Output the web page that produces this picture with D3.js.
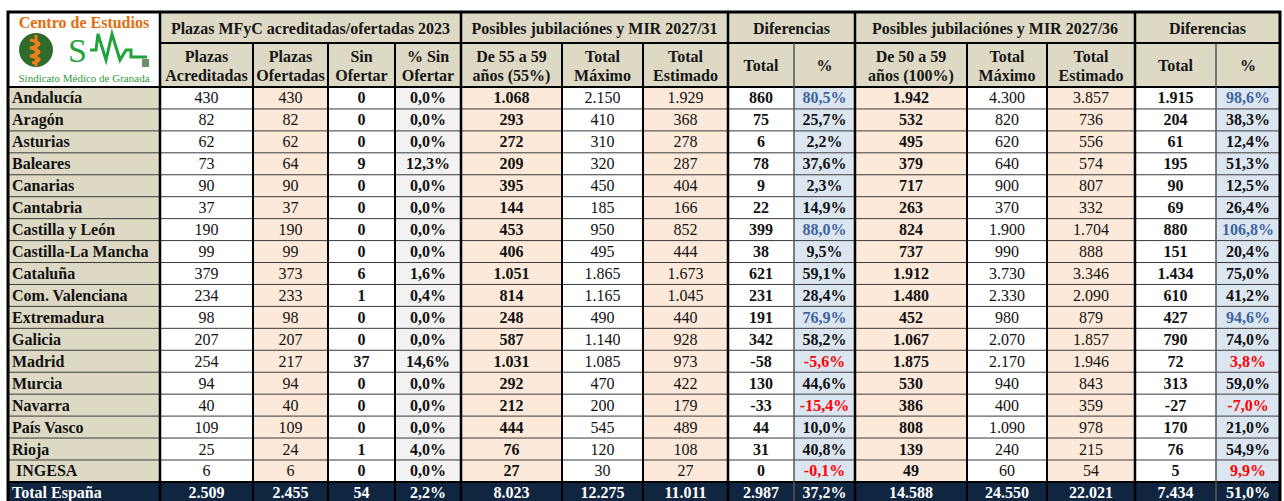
<!DOCTYPE html>
<html>
<head>
<meta charset="utf-8">
<script src="https://cdn.jsdelivr.net/npm/d3@7"></script>
<style>
  html, body { margin: 0; padding: 0; background: #fff; }
  svg { display: block; }
  text { font-family: "Liberation Serif", "Times New Roman", serif; }
</style>
</head>
<body>
<svg id="chart" width="1284" height="501"></svg>
<script>
// ---- data ----
const regions = ['Andalucía', 'Aragón', 'Asturias', 'Baleares', 'Canarias', 'Cantabria', 'Castilla y León',
    'Castilla-La Mancha', 'Cataluña', 'Com. Valenciana', 'Extremadura', 'Galicia', 'Madrid', 'Murcia',
    'Navarra', 'País Vasco', 'Rioja', ' INGESA', 'Total España'];

const acreditadas = [430, 82, 62, 73, 90, 37, 190, 99, 379, 234, 98, 207, 254, 94, 40, 109, 25, 6, 2509];
const ofertadas = [430, 82, 62, 64, 90, 37, 190, 99, 373, 233, 98, 207, 217, 94, 40, 109, 24, 6, 2455];
const sinOfertar = [0, 0, 0, 9, 0, 0, 0, 0, 6, 1, 0, 0, 37, 0, 0, 0, 1, 0, 54];
const pctSinOfertar = [0, 0, 0, 12.3, 0, 0, 0, 0, 1.6, 0.4, 0, 0, 14.6, 0, 0, 0, 4.0, 0, 2.2];

const de55a59 = [1068, 293, 272, 209, 395, 144, 453, 406, 1051, 814, 248, 587, 1031, 292, 212, 444, 76, 27, 8023];
const maximo31 = [2150, 410, 310, 320, 450, 185, 950, 495, 1865, 1165, 490, 1140, 1085, 470, 200, 545, 120, 30, 12275];
const estimado31 = [1929, 368, 278, 287, 404, 166, 852, 444, 1673, 1045, 440, 928, 973, 422, 179, 489, 108, 27, 11011];
const dif31 = [860, 75, 6, 78, 9, 22, 399, 38, 621, 231, 191, 342, -58, 130, -33, 44, 31, 0, 2987];
const pct31 = [80.5, 25.7, 2.2, 37.6, 2.3, 14.9, 88.0, 9.5, 59.1, 28.4, 76.9, 58.2, -5.6, 44.6, -15.4, 10.0, 40.8, -0.1, 37.2];
const mark31 = ['b', '', '', '', '', '', 'b', '', '', '', 'b', '', 'r', '', 'r', '', '', 'r', ''];

const de50a59 = [1942, 532, 495, 379, 717, 263, 824, 737, 1912, 1480, 452, 1067, 1875, 530, 386, 808, 139, 49, 14588];
const maximo36 = [4300, 820, 620, 640, 900, 370, 1900, 990, 3730, 2330, 980, 2070, 2170, 940, 400, 1090, 240, 60, 24550];
const estimado36 = [3857, 736, 556, 574, 807, 332, 1704, 888, 3346, 2090, 879, 1857, 1946, 843, 359, 978, 215, 54, 22021];
const dif36 = [1915, 204, 61, 195, 90, 69, 880, 151, 1434, 610, 427, 790, 72, 313, -27, 170, 76, 5, 7434];
const pct36 = [98.6, 38.3, 12.4, 51.3, 12.5, 26.4, 106.8, 20.4, 75.0, 41.2, 94.6, 74.0, 3.8, 59.0, -7.0, 21.0, 54.9, 9.9, 51.0];
const mark36 = ['b', '', '', '', '', '', 'b', '', '', '', 'b', '', 'r', '', 'r', '', '', 'r', ''];

const groupTitles = ['Plazas MFyC acreditadas/ofertadas 2023', 'Posibles jubilaciónes y MIR 2027/31', 'Diferencias',
    'Posibles jubilaciónes y MIR 2027/36', 'Diferencias'];
const columnTitles = [['Plazas', 'Acreditadas'], ['Plazas', 'Ofertadas'], ['Sin', 'Ofertar'], ['% Sin', 'Ofertar'],
    ['De 55 a 59', 'años (55%)'], ['Total', 'Máximo'], ['Total', 'Estimado'], ['Total'], ['%'],
    ['De 50 a 59', 'años (100%)'], ['Total', 'Máximo'], ['Total', 'Estimado'], ['Total'], ['%']];

// ---- layout / style ----
const es = d3.formatLocale({ decimal: ',', thousands: '.', grouping: [3], currency: ['', ' €'], minus: '-' });
const fmtInt = es.format(',d');
const fmtPct = v => es.format(',.1f')(v) + '%';

const TAN = '#ddd9c4', PEACH = '#fde9d9', BLUEGRAY = '#dce6f1', GRAY = '#f2f2f2', WHITE = '#ffffff', NAVY = '#10253f';
const BLUE_TXT = '#3e64a0', RED_TXT = '#ff0000';

const columns = [
    { values: acreditadas, fmt: fmtInt, bg: WHITE, bold: false },
    { values: ofertadas, fmt: fmtInt, bg: PEACH, bold: false },
    { values: sinOfertar, fmt: fmtInt, bg: WHITE, bold: true },
    { values: pctSinOfertar, fmt: fmtPct, bg: GRAY, bold: true },
    { values: de55a59, fmt: fmtInt, bg: PEACH, bold: true },
    { values: maximo31, fmt: fmtInt, bg: WHITE, bold: false },
    { values: estimado31, fmt: fmtInt, bg: PEACH, bold: false },
    { values: dif31, fmt: fmtInt, bg: WHITE, bold: true },
    { values: pct31, fmt: fmtPct, bg: BLUEGRAY, bold: true, marks: mark31 },
    { values: de50a59, fmt: fmtInt, bg: PEACH, bold: true },
    { values: maximo36, fmt: fmtInt, bg: WHITE, bold: false },
    { values: estimado36, fmt: fmtInt, bg: PEACH, bold: false },
    { values: dif36, fmt: fmtInt, bg: WHITE, bold: true },
    { values: pct36, fmt: fmtPct, bg: BLUEGRAY, bold: true, marks: mark36 }
];

const colEdges = [8, 160, 253, 328, 395, 461, 562, 643, 728, 794, 855, 967, 1047, 1135, 1216, 1280];
const groupSpans = [[1, 5], [5, 8], [8, 10], [10, 13], [13, 15]];
const top0 = 12, head1 = 43, head2 = 87, rowH = 21.94;

const svg = d3.select('#chart');

// column x positions through an ordinal scale on column index
const colIdx = d3.range(colEdges.length);
const xEdge = d3.scaleOrdinal().domain(colIdx).range(colEdges);
const y = d3.scaleBand().domain(regions).range([head2, head2 + regions.length * rowH]).padding(0);

const isTotal = name => name === 'Total España';

// ---- header backgrounds ----
svg.append('rect').attr('x', xEdge(0)).attr('y', top0)
    .attr('width', xEdge(1) - xEdge(0)).attr('height', head2 - top0).attr('fill', WHITE);
svg.append('rect').attr('x', xEdge(1)).attr('y', top0)
    .attr('width', xEdge(15) - xEdge(1)).attr('height', head2 - top0).attr('fill', TAN);

// ---- body cells ----
const rows = svg.append('g').selectAll('g.row')
    .data(regions.map((name, i) => ({ name, i })))
    .join('g').attr('class', 'row')
    .attr('transform', d => `translate(0,${y(d.name)})`);

rows.append('rect')
    .attr('x', xEdge(0)).attr('width', xEdge(1) - xEdge(0)).attr('height', y.bandwidth())
    .attr('fill', d => isTotal(d.name) ? NAVY : TAN);

rows.append('text')
    .attr('x', d => xEdge(0) + (d.name.startsWith(' ') ? 8 : 4))
    .attr('y', y.bandwidth() / 2 + 5.5)
    .attr('font-size', 16).attr('font-weight', 'bold')
    .attr('fill', d => isTotal(d.name) ? '#fff' : '#111')
    .text(d => d.name.trim());

columns.forEach((col, c) => {
    const x0 = xEdge(c + 1), x1 = xEdge(c + 2);
    const cells = rows.append('g');
    cells.append('rect')
        .attr('x', x0).attr('width', x1 - x0).attr('height', y.bandwidth())
        .attr('fill', d => isTotal(d.name) ? NAVY : col.bg);
    cells.append('text')
        .attr('x', (x0 + x1) / 2)
        .attr('y', y.bandwidth() / 2 + 5.5)
        .attr('text-anchor', 'middle')
        .attr('font-size', 16)
        .attr('font-weight', d => (col.bold || isTotal(d.name)) ? 'bold' : 'normal')
        .attr('fill', d => {
            if (isTotal(d.name)) return '#fff';
            const m = col.marks ? col.marks[d.i] : '';
            return m === 'b' ? BLUE_TXT : m === 'r' ? RED_TXT : '#111';
        })
        .text(d => col.fmt(col.values[d.i]));
});

// ---- header texts ----
const hdr = svg.append('g').attr('fill', '#161616').attr('font-weight', 'bold').attr('font-size', 16)
    .attr('text-anchor', 'middle');
hdr.selectAll('text.group')
    .data(groupSpans.map((s, k) => ({ s, t: groupTitles[k] })))
    .join('text').attr('class', 'group')
    .attr('x', d => (xEdge(d.s[0]) + xEdge(d.s[1])) / 2)
    .attr('y', 34)
    .text(d => d.t);

hdr.selectAll('text.col')
    .data(columnTitles.map((lines, c) => ({ lines, c })))
    .join('text').attr('class', 'col')
    .attr('x', d => (xEdge(d.c + 1) + xEdge(d.c + 2)) / 2)
    .each(function (d) {
        const t = d3.select(this);
        const cx = (xEdge(d.c + 1) + xEdge(d.c + 2)) / 2;
        if (d.lines.length === 1) {
            t.append('tspan').attr('x', cx).attr('y', 71).text(d.lines[0]);
        } else {
            t.append('tspan').attr('x', cx).attr('y', 62).text(d.lines[0]);
            t.append('tspan').attr('x', cx).attr('y', 81).text(d.lines[1]);
        }
    });

// ---- grid lines ----
const grid = svg.append('g').attr('fill', 'none');
const yBottom = y(regions[regions.length - 1]) + y.bandwidth();

// horizontal lines between body rows
grid.selectAll('line.h')
    .data(regions.slice(1))
    .join('line').attr('class', 'h')
    .attr('x1', xEdge(0)).attr('x2', xEdge(15))
    .attr('y1', d => y(d)).attr('y2', d => y(d))
    .attr('stroke', d => isTotal(d) ? '#000' : '#3a3a3a')
    .attr('stroke-width', d => isTotal(d) ? 2 : 1);

// header horizontals
grid.append('line').attr('x1', xEdge(1)).attr('x2', xEdge(15)).attr('y1', head1).attr('y2', head1)
    .attr('stroke', '#000').attr('stroke-width', 2);
grid.append('line').attr('x1', xEdge(0)).attr('x2', xEdge(15)).attr('y1', head2).attr('y2', head2)
    .attr('stroke', '#000').attr('stroke-width', 2);

// verticals
const groupEdges = new Set([1, 5, 8, 10, 13]);
grid.selectAll('line.v')
    .data(d3.range(1, 15))
    .join('line').attr('class', 'v')
    .attr('x1', d => xEdge(d)).attr('x2', d => xEdge(d))
    .attr('y1', d => groupEdges.has(d) ? top0 : head1)
    .attr('y2', yBottom)
    .attr('stroke', d => (d === 9 || d === 14) ? '#555' : '#000')
    .attr('stroke-width', d => groupEdges.has(d) ? 2.5 : (d === 9 || d === 14) ? 1.5 : 2);

// outer frame
grid.append('rect').attr('x', xEdge(0)).attr('y', top0)
    .attr('width', xEdge(15) - xEdge(0)).attr('height', yBottom - top0)
    .attr('stroke', '#000').attr('stroke-width', 3);

// ---- logo ----
const logo = svg.append('g');
logo.append('text').attr('x', 84).attr('y', 28).attr('text-anchor', 'middle')
    .attr('font-size', 16).attr('font-weight', 'bold').attr('fill', '#e46c0a')
    .text('Centro de Estudios');
logo.append('circle').attr('cx', 36).attr('cy', 50).attr('r', 17).attr('fill', '#2f6b2a');
logo.append('path')
    .attr('d', 'M36,35 L36,66 M30,40 C42,42 42,46 30,48 C42,50 42,54 30,56 C42,58 42,61 32,63')
    .attr('stroke', '#f07d1a').attr('stroke-width', 3).attr('fill', 'none');
logo.append('text').attr('x', 68).attr('y', 62).attr('font-family', '"DejaVu Sans", sans-serif')
    .attr('font-size', 34).attr('fill', '#1fa33a').text('S');
logo.append('path')
    .attr('d', 'M90,50 L96,50 L98,34 L106,60 L112,34 L120,60 L126,50 L131,50 L131,57 L147,57')
    .attr('stroke', '#1fa33a').attr('stroke-width', 3).attr('fill', 'none');
logo.append('rect').attr('x', 142).attr('y', 59).attr('width', 7).attr('height', 8).attr('fill', '#6b8f6b');
logo.append('text').attr('x', 84).attr('y', 82).attr('text-anchor', 'middle')
    .attr('font-family', '"Liberation Sans", Arial, sans-serif')
    .attr('font-size', 11).attr('fill', '#2f9a3a')
    .text('Sindicato Médico de Granada');
</script>
</body>
</html>
